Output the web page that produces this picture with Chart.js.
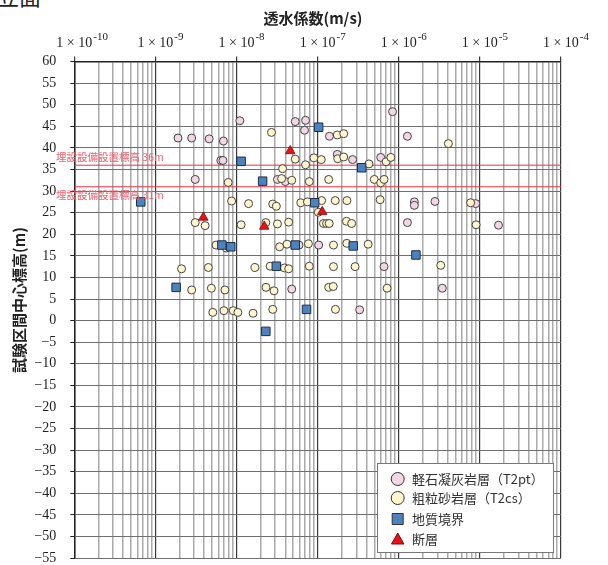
<!DOCTYPE html>
<html>
<head>
<meta charset="utf-8">
<script src="https://cdn.jsdelivr.net/npm/chart.js@4/dist/chart.umd.min.js"></script>
<style>
  body { margin: 0; background: #fff; }
  #wrap { position: relative; width: 608px; height: 565px; overflow: hidden; }
  #head { position: absolute; left: -3px; top: -16px; font: 22px "Noto Sans CJK JP"; line-height: 1; color: #222; }
  canvas { position: absolute; left: 0; top: 0; }
</style>
</head>
<body>
<div id="wrap">
  <div id="head">立面</div>
  <canvas id="grafico" width="608" height="565"></canvas>
</div>
<script>
// 軽石凝灰岩層 (T2pt)
const pumiceK = [1.9e-9, 2.8e-9, 4.6e-9, 6.9e-9, 3.1e-9, 6.4e-9, 6.8e-9, 1.1e-8, 5.3e-8, 7.1e-8,
  6.9e-8, 1.4e-7, 3.2e-8, 4.0e-8, 1.75e-7, 2.7e-7, 6.0e-7, 8.4e-7, 1.28e-6, 4.8e-8,
  1.03e-7, 5.9e-8, 6.6e-7, 3.3e-7, 1.56e-6, 1.56e-6, 2.8e-6, 8.9e-6, 1.28e-6, 1.7e-5, 3.45e-6];
const pumiceZ = [42.3, 42.3, 42.1, 41.6, 32.7, 37.1, 37.1, 46.3, 46.1, 46.4,
  44.1, 42.7, 32.7, 32.2, 38.5, 37.3, 37.8, 48.4, 42.7, 7.3,
  17.5, 17.5, 12.5, 2.5, 27.5, 26.7, 27.6, 27.1, 22.7, 22.1, 7.5];

// 粗粒砂岩層 (T2cs)
const sandK = [2.7e-8, 1.75e-7, 2.1e-7, 4.1e-6, 5.3e-8, 7.1e-8, 9.0e-8, 1.11e-7, 1.77e-7, 2.1e-7,
  4.3e-7, 7.0e-7, 8.0e-7, 3.7e-8, 7.9e-9, 3.6e-8, 4.8e-8, 7.9e-8, 1.37e-7, 5.0e-7,
  6.0e-7, 6.6e-7, 8.7e-9, 1.41e-8, 2.8e-8, 3.1e-8, 6.2e-8, 7.5e-8, 1.12e-7, 1.65e-7,
  2.3e-7, 5.9e-7, 7.7e-6, 1.02e-7, 3.1e-9, 4.1e-9, 1.14e-8, 2.3e-8, 3.2e-8, 4.4e-8,
  1.18e-7, 1.29e-7, 1.39e-7, 2.27e-7, 2.63e-7, 9.0e-6, 5.6e-9, 7.5e-9, 3.4e-8, 4.2e-8,
  7.7e-8, 1.57e-7, 2.29e-7, 4.2e-7, 2.1e-9, 4.5e-9, 1.69e-8, 2.6e-8, 3.9e-8, 4.4e-8,
  7.9e-8, 1.57e-7, 2.9e-7, 3.3e-6, 2.8e-9, 4.9e-9, 7.2e-9, 2.31e-8, 2.9e-8, 1.37e-7,
  1.56e-7, 7.2e-7, 5.1e-9, 7.0e-9, 9.1e-9, 1.04e-8, 1.6e-8, 2.8e-8, 1.66e-7];
const sandZ = [43.6, 43.0, 43.3, 41.0, 37.4, 36.1, 37.7, 37.3, 37.5, 37.9,
  36.3, 36.8, 37.8, 35.2, 32.0, 32.9, 32.5, 32.2, 32.7, 32.7,
  31.9, 32.7, 27.7, 27.1, 27.0, 26.5, 27.3, 27.5, 27.8, 27.8,
  27.8, 28.0, 27.3, 25.1, 22.7, 22.0, 22.2, 22.7, 22.4, 22.8,
  22.5, 22.5, 22.5, 23.0, 22.5, 22.2, 17.5, 16.8, 17.1, 17.7,
  17.8, 17.5, 17.9, 17.7, 12.0, 12.3, 12.3, 12.6, 12.2, 12.0,
  12.6, 12.5, 12.5, 12.8, 7.1, 7.5, 7.1, 7.7, 6.9, 7.7,
  7.9, 7.5, 1.9, 2.3, 2.3, 1.9, 1.7, 2.6, 2.6];

// 地質境界
const boundaryK = [6.6e-10, 1.8e-9, 6.6e-9, 8.5e-9, 1.14e-8, 2.1e-8, 3.1e-8, 5.3e-8, 7.3e-8, 2.3e-8,
  9.2e-8, 1.03e-7, 2.75e-7, 3.5e-7, 1.63e-6];
const boundaryZ = [27.5, 7.7, 17.5, 17.1, 36.9, 32.3, 12.6, 17.5, 2.6, -2.5,
  27.3, 44.8, 17.3, 35.4, 15.2];

// 断層
const faultK = [3.9e-9, 2.2e-8, 4.6e-8, 1.14e-7];
const faultZ = [23.9, 21.8, 39.3, 25.2];

// 埋設設備設置標高
const nivelRef = [36, 31];
const decadas = [-10, -9, -8, -7, -6, -5, -4];

const linhasGrade = [];
for (let n = -10; n < -4; n++) {
    for (let m = 1; m <= 9; m++) {
        linhasGrade.push(Number(m + 'e' + n));
    }
}
linhasGrade.push(1e-4);

function ehDecada(v) {
    const l = Math.log10(v);
    return Math.abs(l - Math.round(l)) < 1e-6;
}

function pontos(ks, zs) {
    return ks.map((k, i) => ({ x: k, y: zs[i] }));
}

const fonteJP = '"Noto Sans CJK JP", sans-serif';
const fonteNum = '"Liberation Serif", "DejaVu Serif", serif';

const itensLegenda = [
    { nome: '軽石凝灰岩層（T2pt）', forma: 'circle', cor: '#f3d6e6', y: 479 },
    { nome: '粗粒砂岩層（T2cs）', forma: 'circle', cor: '#fff6cf', y: 498 },
    { nome: '地質境界', forma: 'rect', cor: '#4f81bd', y: 519 },
    { nome: '断層', forma: 'triangle', cor: '#e8111a', y: 539 }
];

const decoracao = {
    id: 'decoracao',
    afterDraw(chart) {
        const { ctx } = chart;
        const eixoX = chart.scales.x;
        const eixoY = chart.scales.y;
        ctx.save();

        // rotulos do eixo x (1×10^n)
        ctx.fillStyle = '#222';
        ctx.textBaseline = 'alphabetic';
        ctx.textAlign = 'left';
        decadas.forEach(n => {
            const px = eixoX.getPixelForValue(Math.pow(10, n));
            ctx.font = '14px ' + fonteNum;
            const base = '1 × 10';
            const w = ctx.measureText(base).width;
            ctx.fillText(base, px - w / 2, 47);
            ctx.font = '11px ' + fonteNum;
            ctx.fillText('-' + Math.abs(n), px + w / 2 + 1, 40);
        });

        // titulos dos eixos
        ctx.font = 'bold 15px ' + fonteJP;
        ctx.textAlign = 'center';
        ctx.textBaseline = 'middle';
        ctx.fillText('透水係数(m/s)', 313, 18);
        ctx.save();
        ctx.translate(19, 300);
        ctx.rotate(-Math.PI / 2);
        ctx.fillText('試験区間中心標高(m)', 0, 0);
        ctx.restore();

        // rotulos das linhas de referencia
        ctx.font = '10.5px ' + fonteJP;
        ctx.fillStyle = '#f0606e';
        ctx.textAlign = 'left';
        ctx.textBaseline = 'alphabetic';
        ctx.fillText('埋設設備設置標高 ' + nivelRef[0] + 'm', 56, eixoY.getPixelForValue(nivelRef[0]) - 4);
        ctx.fillText('埋設設備設置標高 ' + nivelRef[1] + 'm', 56, eixoY.getPixelForValue(nivelRef[1]) + 12);

        // legenda
        ctx.fillStyle = '#fff';
        ctx.fillRect(377.5, 463.5, 176, 89);
        ctx.strokeStyle = '#777';
        ctx.lineWidth = 1;
        ctx.strokeRect(377.5, 463.5, 176, 89);
        itensLegenda.forEach(item => {
            const cx = 397.7;
            ctx.fillStyle = item.cor;
            ctx.strokeStyle = '#333';
            ctx.lineWidth = 1;
            ctx.beginPath();
            if (item.forma === 'circle') {
                ctx.arc(cx, item.y, 6.5, 0, Math.PI * 2);
            } else if (item.forma === 'rect') {
                ctx.rect(cx - 5.5, item.y - 5.5, 11, 11);
            } else {
                ctx.moveTo(cx, item.y - 6);
                ctx.lineTo(cx + 6.2, item.y + 5);
                ctx.lineTo(cx - 6.2, item.y + 5);
                ctx.closePath();
                ctx.strokeStyle = '#7a0a0a';
            }
            ctx.fill();
            ctx.stroke();
            ctx.fillStyle = '#333';
            ctx.font = '13px ' + fonteJP;
            ctx.textBaseline = 'middle';
            ctx.fillText(item.nome, 412, item.y);
        });

        ctx.restore();
    }
};

const grafico = document.getElementById('grafico');
new Chart(grafico, {
    type: 'scatter',
    data: {
        datasets: [
            {
                label: '軽石凝灰岩層 (T2pt)',
                data: pontos(pumiceK, pumiceZ),
                pointStyle: 'circle',
                pointRadius: 4,
                backgroundColor: '#f3d6e6',
                borderColor: '#444',
                borderWidth: 1,
                order: 3
            },
            {
                label: '粗粒砂岩層 (T2cs)',
                data: pontos(sandK, sandZ),
                pointStyle: 'circle',
                pointRadius: 4,
                backgroundColor: '#fff6cf',
                borderColor: '#444',
                borderWidth: 1,
                order: 2
            },
            {
                label: '地質境界',
                data: pontos(boundaryK, boundaryZ),
                pointStyle: 'rect',
                pointRadius: 6,
                backgroundColor: '#4f81bd',
                borderColor: '#1c2f4a',
                borderWidth: 1,
                order: 1
            },
            {
                label: '断層',
                data: pontos(faultK, faultZ),
                pointStyle: 'triangle',
                pointRadius: 5.5,
                backgroundColor: '#e8111a',
                borderColor: '#7a0a0a',
                borderWidth: 0.8,
                order: 0
            },
            ...nivelRef.map(z => ({
                label: 'ref' + z,
                data: [{ x: 1e-10, y: z }, { x: 1e-4, y: z }],
                showLine: true,
                pointRadius: 0,
                borderColor: '#ee3344',
                borderWidth: 1,
                order: 4
            }))
        ]
    },
    options: {
        responsive: false,
        animation: false,
        devicePixelRatio: 1,
        layout: { padding: { top: 0, left: 0, right: 47.1, bottom: 4.9 } },
        plugins: {
            legend: { display: false },
            tooltip: { enabled: false }
        },
        scales: {
            x: {
                type: 'logarithmic',
                position: 'top',
                min: 1e-10,
                max: 1e-4,
                afterBuildTicks: eixo => { eixo.ticks = linhasGrade.map(v => ({ value: v })); },
                afterFit: eixo => { eixo.height = 61.6; eixo.paddingLeft = 0; eixo.paddingRight = 0; },
                ticks: { display: false, autoSkip: false },
                grid: {
                    color: c => (c.tick && ehDecada(c.tick.value)) ? '#3a3a3a' : '#aaaaaa',
                    lineWidth: c => (c.tick && ehDecada(c.tick.value)) ? 1.2 : 1.5,
                    tickColor: c => (c.tick && ehDecada(c.tick.value)) ? '#3a3a3a' : 'rgba(0,0,0,0)',
                    tickLength: 5
                },
                border: { color: '#222', width: 1.5 }
            },
            y: {
                min: -55,
                max: 60,
                afterFit: eixo => { eixo.width = 74.3; eixo.paddingTop = 0; eixo.paddingBottom = 0; },
                ticks: {
                    stepSize: 5,
                    padding: 14,
                    color: '#222',
                    font: { family: fonteNum, size: 14 },
                    callback: v => v < 0 ? '−' + Math.abs(v) : String(v)
                },
                grid: { color: '#6f6f6f', lineWidth: 1, tickLength: 4, tickColor: '#222' },
                border: { color: '#222', width: 1.5 }
            }
        }
    },
    plugins: [decoracao]
});
</script>
</body>
</html>
